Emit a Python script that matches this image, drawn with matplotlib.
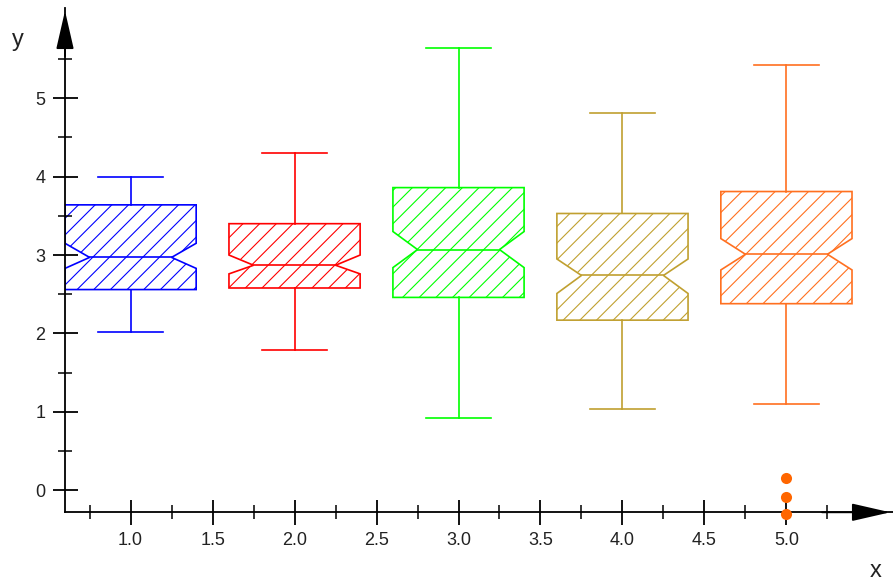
import matplotlib.pyplot as plt
from matplotlib.patches import Polygon

plt.rcParams['font.family'] = ['Liberation Sans', 'DejaVu Sans']
plt.rcParams['hatch.linewidth'] = 0.8

# box statistics
positions = [1, 2, 3, 4, 5]
q1 = [2.56, 2.58, 2.46, 2.17, 2.38]
med = [2.97, 2.87, 3.07, 2.74, 3.01]
q3 = [3.64, 3.40, 3.86, 3.53, 3.81]
ci_lo = [2.83, 2.76, 2.84, 2.51, 2.81]
ci_hi = [3.15, 3.00, 3.30, 2.95, 3.21]
whis_lo = [2.02, 1.79, 0.92, 1.04, 1.10]
whis_hi = [3.99, 4.30, 5.64, 4.81, 5.42]
fliers = [[], [], [], [], [0.155, -0.09, -0.30]]
colors = ['#0000FF', '#FF0000', '#00FF00', '#C0A030', '#FF7020']

x_major = [1.0, 1.5, 2.0, 2.5, 3.0, 3.5, 4.0, 4.5, 5.0]
x_minor = [0.75, 1.25, 1.75, 2.25, 2.75, 3.25, 3.75, 4.25, 4.75, 5.25]
y_major = [0, 1, 2, 3, 4, 5]
y_minor = [0.5, 1.5, 2.5, 3.5, 4.5, 5.5]

fig = plt.figure(figsize=(8.93, 5.84), dpi=100)
ax = fig.add_axes([65 / 893, 71.7 / 584, 828 / 893, 504.3 / 584])

half = 0.4    # half box width
notch = 0.25  # half width at the notch
cap = 0.2

for i in range(len(positions)):
    p = positions[i]
    c = colors[i]
    L, R = p - half, p + half
    nl, nr = p - notch, p + notch
    verts = [(L, q1[i]), (R, q1[i]), (R, ci_lo[i]), (nr, med[i]), (R, ci_hi[i]),
             (R, q3[i]), (L, q3[i]), (L, ci_hi[i]), (nl, med[i]), (L, ci_lo[i])]
    ax.add_patch(Polygon(verts, closed=True, facecolor='none', edgecolor=c,
                         hatch='//', lw=1.2))
    ax.plot([nl, nr], [med[i], med[i]], color=c, lw=1.2)
    ax.plot([p, p], [q3[i], whis_hi[i]], color=c, lw=1.2)
    ax.plot([p, p], [q1[i], whis_lo[i]], color=c, lw=1.2)
    ax.plot([p - cap, p + cap], [whis_hi[i], whis_hi[i]], color=c, lw=1.2)
    ax.plot([p - cap, p + cap], [whis_lo[i], whis_lo[i]], color=c, lw=1.2)
    if fliers[i]:
        ax.plot([p] * len(fliers[i]), fliers[i], 'o', color='#FF6600', ms=8,
                mec='none', clip_on=False, zorder=5)

ax.set_xlim(0.6, 5.65)
ax.set_ylim(-0.28, 6.15)

for s in ['top', 'right']:
    ax.spines[s].set_visible(False)
ax.spines['left'].set_linewidth(1.3)
ax.spines['bottom'].set_linewidth(1.3)

ax.set_xticks(x_major)
ax.set_xticklabels(['%.1f' % v for v in x_major])
ax.set_xticks(x_minor, minor=True)
ax.set_yticks(y_major)
ax.set_yticklabels([str(v) for v in y_major])
ax.set_yticks(y_minor, minor=True)

ax.tick_params(which='major', direction='inout', length=18, width=1.3,
               labelsize=13, labelcolor='#222222')
ax.tick_params(which='minor', direction='inout', length=10, width=1.1)
ax.tick_params(axis='y', pad=5)
ax.tick_params(axis='x', pad=5)

# axis arrows
ax.annotate('', xy=(5.65, -0.28), xytext=(5.2, -0.28),
            arrowprops=dict(arrowstyle='-|>,head_length=2.4,head_width=0.55',
                            color='black', lw=1.3, mutation_scale=10),
            annotation_clip=False)
ax.annotate('', xy=(0.6, 6.15), xytext=(0.6, 5.5),
            arrowprops=dict(arrowstyle='-|>,head_length=2.4,head_width=0.55',
                            color='black', lw=1.3, mutation_scale=10),
            annotation_clip=False)

fig.text(18 / 893, 1 - 40 / 584, 'y', fontsize=17, color='#222222',
         ha='center', va='center')
fig.text(876 / 893, 1 - 571 / 584, 'x', fontsize=17, color='#222222',
         ha='center', va='center')

fig.savefig('out.png', dpi=100)
